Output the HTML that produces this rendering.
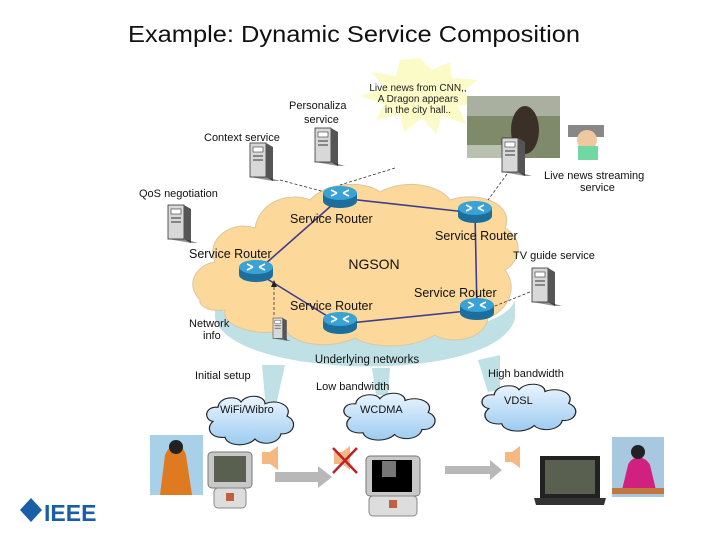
<!DOCTYPE html>
<html><head><meta charset="utf-8"><style>
html,body{margin:0;padding:0;background:#fff;}
svg{display:block;font-family:"Liberation Sans",sans-serif;}
</style></head><body>
<svg width="720" height="540" viewBox="0 0 720 540" xmlns="http://www.w3.org/2000/svg">
<defs>
<linearGradient id="cl" x1="0" y1="0" x2="0" y2="1"><stop offset="0" stop-color="#eaf5ff"/><stop offset="1" stop-color="#9ccbf0"/></linearGradient>
<g id="router">
  <ellipse cx="0" cy="6" rx="17" ry="7" fill="#1c6e9c"/>
  <rect x="-17" y="-2" width="34" height="8" fill="#1c6e9c"/>
  <ellipse cx="0" cy="-2" rx="17" ry="7" fill="#3aa2d4"/>
  <path d="M-9,-5 L-3,-2 M9,1 L3,-2 M-9,1 L-3,-2 M9,-5 L3,-2" stroke="#fff" stroke-width="1.6"/>
</g>
<g id="server">
  <rect x="0" y="0" width="16" height="34" fill="#d8d8d8" stroke="#333" stroke-width="0.8"/>
  <polygon points="16,0 23,4 23,38 16,34" fill="#555"/>
  <rect x="3" y="4" width="10" height="5" fill="#fff" stroke="#333" stroke-width="0.6"/>
  <line x1="3" y1="13" x2="13" y2="13" stroke="#333"/>
  <line x1="3" y1="17" x2="13" y2="17" stroke="#333"/>
  <polygon points="0,34 16,34 30,38 23,38" fill="#222" opacity="0.5"/>
</g>
<g id="cloud">
  <path d="M10,30 C0,28 2,12 15,14 C16,2 34,0 38,8 C44,-2 62,0 62,10 C74,4 90,12 84,24 C96,30 90,46 78,44 C76,56 58,58 52,50 C44,60 24,58 22,48 C8,50 2,38 10,30 Z" fill="url(#cl)" stroke="#222" stroke-width="1.2"/>
</g>
</defs>

<text x="128" y="42" font-size="23" textLength="452" lengthAdjust="spacingAndGlyphs" fill="#111">Example:  Dynamic Service Composition</text>

<!-- underlying networks band -->
<path d="M215,318 C230,380 500,385 515,318 L515,300 C500,350 230,350 215,300 Z" fill="#bfe0e4"/>
<path d="M262,365 L285,365 L275,410 L266,410 Z" fill="#bfe0e4"/>
<path d="M372,368 L390,368 L388,395 L376,395 Z" fill="#bfe0e4"/>
<path d="M478,360 L500,355 L500,390 L488,392 Z" fill="#bfe0e4"/>
<text x="367" y="363" font-size="11.5" text-anchor="middle" fill="#111">Underlying  networks</text>

<!-- NGSON cloud -->
<path d="M200,300 C185,285 195,265 215,262 C205,240 230,220 255,228 C260,200 290,192 310,200 C325,182 365,180 380,192 C405,178 440,185 450,200 C480,190 515,205 505,228 C525,240 520,262 505,270 C520,290 505,312 488,318 C485,340 450,345 435,335 C410,350 370,348 355,338 C330,350 295,345 285,330 C255,338 220,325 225,310 C210,312 198,306 200,300 Z" fill="#fcd89a" stroke="#d8c8a0" stroke-width="1"/>
<text x="374" y="269" font-size="14" text-anchor="middle" fill="#111">NGSON</text>

<!-- starburst -->
<polygon points="420,58 432,70 450,62 452,78 478,80 462,92 484,104 458,106 466,124 442,116 436,134 422,118 404,132 400,114 376,120 384,104 360,96 384,88 372,72 396,76 400,60" fill="#fbfbc8"/>
<text x="418" y="91" font-size="10" text-anchor="middle" fill="#222">Live news from CNN,,</text>
<text x="418" y="102" font-size="10" text-anchor="middle" fill="#222">A Dragon appears</text>
<text x="418" y="113" font-size="10" text-anchor="middle" fill="#222">in the city hall..</text>

<!-- photo -->
<rect x="467" y="96" width="93" height="62" fill="#7e8a6a"/>
<rect x="467" y="96" width="93" height="20" fill="#aab0a0"/>
<ellipse cx="525" cy="130" rx="14" ry="24" fill="#3a3028"/>
<rect x="467" y="145" width="50" height="13" fill="#b8c0b0"/>

<!-- cameraman -->
<rect x="568" y="125" width="36" height="12" fill="#888"/>
<ellipse cx="587" cy="140" rx="10" ry="10" fill="#f0c8a0"/>
<rect x="578" y="146" width="20" height="14" fill="#70d8a0"/>

<!-- links -->
<g stroke="#403c8c" stroke-width="1.6" fill="none">
<line x1="340" y1="198" x2="475" y2="213"/>
<line x1="475" y1="213" x2="477" y2="310"/>
<line x1="477" y1="310" x2="340" y2="324"/>
<line x1="340" y1="324" x2="256" y2="272"/>
<line x1="256" y1="272" x2="340" y2="198"/>
</g>
<g stroke="#333" stroke-width="0.8" stroke-dasharray="3,2" fill="none">
<line x1="280" y1="180" x2="325" y2="192"/>
<line x1="395" y1="168" x2="340" y2="185"/>
<line x1="510" y1="170" x2="488" y2="200"/>
<line x1="490" y1="308" x2="535" y2="290"/>
<line x1="274" y1="315" x2="274" y2="283"/>
</g>
<polygon points="274,280 271,287 277,287" fill="#222"/>

<!-- servers -->
<use href="#server" x="250" y="143"/>
<use href="#server" x="315" y="128"/>
<use href="#server" x="168" y="205"/>
<use href="#server" x="502" y="138"/>
<use href="#server" x="532" y="268"/>
<g transform="translate(273,318) scale(0.6)"><use href="#server"/></g>

<!-- routers -->
<use href="#router" x="340" y="195"/>
<use href="#router" x="475" y="210"/>
<use href="#router" x="256" y="269"/>
<use href="#router" x="340" y="321"/>
<use href="#router" x="477" y="307"/>

<g font-size="11" fill="#111">
<text x="289" y="109">Personaliza</text>
<text x="304" y="123">service</text>
<text x="204" y="141">Context service</text>
<text x="139" y="197">QoS negotiation</text>
<text x="544" y="179">Live news streaming</text>
<text x="580" y="191">service</text>
<text x="513" y="259">TV guide service</text>
<text x="189" y="327">Network</text>
<text x="203" y="339">info</text>
<text x="195" y="379">Initial setup</text>
<text x="316" y="390">Low bandwidth</text>
<text x="488" y="377">High bandwidth</text>
</g>
<g font-size="12.5" fill="#111">
<text x="290" y="223">Service Router</text>
<text x="435" y="240">Service Router</text>
<text x="189" y="258">Service Router</text>
<text x="414" y="297">Service Router</text>
<text x="290" y="310">Service Router</text>
</g>

<!-- clouds -->
<g transform="translate(203,395) scale(1.0,0.88)"><use href="#cloud"/></g>
<g transform="translate(340,392) scale(1.05,0.85)"><use href="#cloud"/></g>
<g transform="translate(478,383) scale(1.08,0.85)"><use href="#cloud"/></g>
<g font-size="11" fill="#111">
<text x="220" y="413">WiFi/Wibro</text>
<text x="360" y="413">WCDMA</text>
<text x="504" y="404">VDSL</text>
</g>

<!-- bottom devices -->
<rect x="150" y="435" width="53" height="60" fill="#a8d0e8"/>
<path d="M160,495 L165,455 C170,442 182,442 186,455 L192,495 Z" fill="#e07a20"/>
<circle cx="176" cy="447" r="7" fill="#222"/>
<rect x="208" y="452" width="44" height="36" rx="4" fill="#c8c8c8" stroke="#777"/>
<rect x="214" y="456" width="32" height="26" fill="#5a6050"/>
<rect x="214" y="488" width="32" height="20" rx="4" fill="#ddd" stroke="#888"/>
<rect x="226" y="493" width="8" height="8" fill="#c06040"/>
<polygon points="262,452 270,452 278,446 278,470 270,464 262,464" fill="#f4b880"/>
<polygon points="275,472 318,472 318,466 332,477 318,488 318,482 275,482" fill="#b8b8b8"/>
<polygon points="334,452 342,452 350,446 350,470 342,464 334,464" fill="#f4b880"/>
<path d="M333,448 L357,473 M357,448 L333,473" stroke="#c0202a" stroke-width="2.5"/>
<rect x="366" y="456" width="54" height="40" rx="4" fill="#c8c8c8" stroke="#777"/>
<rect x="372" y="460" width="40" height="32" fill="#000"/>
<rect x="382" y="461" width="14" height="16" fill="#777"/>
<rect x="369" y="496" width="48" height="20" rx="4" fill="#ddd" stroke="#888"/>
<rect x="389" y="500" width="8" height="8" fill="#c06040"/>
<polygon points="445,466 490,466 490,460 502,470 490,480 490,474 445,474" fill="#b8b8b8"/>
<polygon points="505,452 512,452 520,446 520,468 512,462 505,462" fill="#f4b880"/>
<rect x="540" y="456" width="60" height="42" fill="#222"/>
<rect x="545" y="460" width="50" height="34" fill="#5a6050"/>
<polygon points="534,498 606,498 604,505 536,505" fill="#333"/>
<rect x="612" y="437" width="52" height="60" fill="#a8c8e0"/>
<path d="M622,490 L628,465 C632,455 645,455 650,465 L656,490 Z" fill="#d02080"/>
<circle cx="638" cy="452" r="7" fill="#222"/>
<rect x="612" y="488" width="52" height="6" fill="#c07840"/>

<!-- IEEE logo -->
<polygon points="31,498 42,510 31,522 20,510" fill="#1a5ea8"/>
<text x="44" y="521" font-size="23" font-weight="bold" fill="#1a5ea8">IEEE</text>
</svg>
</body></html>
